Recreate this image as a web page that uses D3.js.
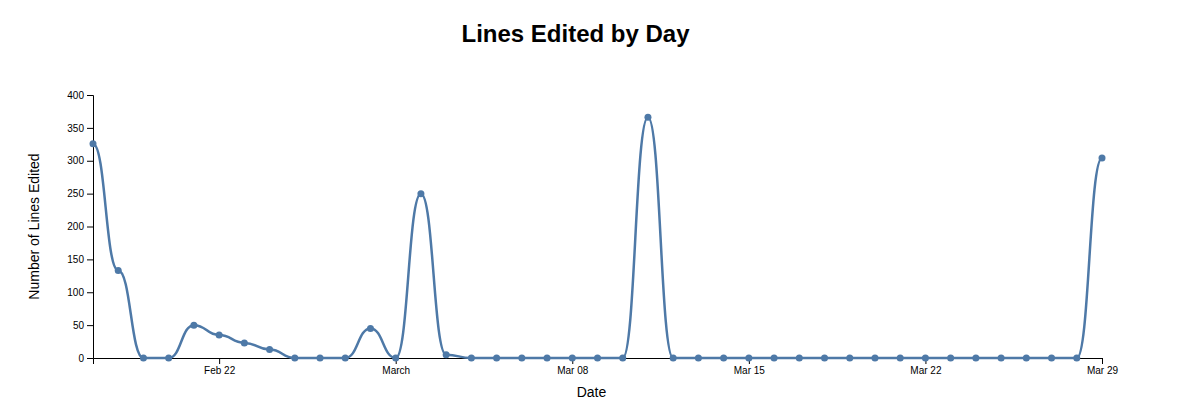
<!DOCTYPE html>
<html>
<head>
<meta charset="utf-8">
<script src="https://cdn.jsdelivr.net/npm/d3@7"></script>
<style>
  body { margin: 0; background: #fff; font-family: "Liberation Sans", Arial, sans-serif; }
  .tick text { font-family: "Liberation Sans", Arial, sans-serif; }
</style>
</head>
<body>
<div id="chart"></div>
<script>
// DATA
const days = [
    "2015-02-17", "2015-02-18", "2015-02-19", "2015-02-20", "2015-02-21", "2015-02-22",
    "2015-02-23", "2015-02-24", "2015-02-25", "2015-02-26", "2015-02-27", "2015-02-28",
    "2015-03-01", "2015-03-02", "2015-03-03", "2015-03-04", "2015-03-05", "2015-03-06",
    "2015-03-07", "2015-03-08", "2015-03-09", "2015-03-10", "2015-03-11", "2015-03-12",
    "2015-03-13", "2015-03-14", "2015-03-15", "2015-03-16", "2015-03-17", "2015-03-18",
    "2015-03-19", "2015-03-20", "2015-03-21", "2015-03-22", "2015-03-23", "2015-03-24",
    "2015-03-25", "2015-03-26", "2015-03-27", "2015-03-28", "2015-03-29"
];
const linesEdited = [
    326, 133, 0, 0, 50, 35,
    23, 13, 0, 0, 0, 45,
    0, 250, 5, 0, 0, 0,
    0, 0, 0, 0, 366, 0,
    0, 0, 0, 0, 0, 0,
    0, 0, 0, 0, 0, 0,
    0, 0, 0, 0, 304
];

// 1: SET GLOBAL VARIABLES
const margin = { top: 95, right: 78, bottom: 60, left: 93 };
const width = 1180 - margin.left - margin.right;
const height = 418 - margin.top - margin.bottom;
const color = "#4e79a7";

const svg = d3.select("#chart")
    .append("svg")
    .attr("width", width + margin.left + margin.right)
    .attr("height", height + margin.top + margin.bottom)
    .append("g")
    .attr("transform", `translate(${margin.left},${margin.top})`);

const parseDate = d3.timeParse("%Y-%m-%d");
const data = days.map((d, i) => ({ date: parseDate(d), lines: linesEdited[i] }));

// 2: SCALES
const xScale = d3.scaleTime()
    .domain(d3.extent(data, d => d.date))
    .range([0, width]);

const yScale = d3.scaleLinear()
    .domain([0, d3.max(data, d => d.lines)])
    .nice()
    .range([height, 0]);

// 3: AXES
svg.append("g")
    .attr("transform", `translate(0,${height})`)
    .call(d3.axisBottom(xScale));

svg.append("g").call(d3.axisLeft(yScale));

// 4: LABELS
svg.append("text")
    .attr("x", width / 2 - 22)
    .attr("y", -53)
    .attr("text-anchor", "middle")
    .style("font-size", "24px")
    .style("font-weight", "bold")
    .text("Lines Edited by Day");

svg.append("text")
    .attr("x", width / 2 - 6)
    .attr("y", height + 39)
    .attr("text-anchor", "middle")
    .style("font-size", "14px")
    .text("Date");

svg.append("text")
    .attr("transform", "rotate(-90)")
    .attr("x", -height / 2)
    .attr("y", -54)
    .attr("text-anchor", "middle")
    .style("font-size", "14px")
    .text("Number of Lines Edited");

// 5: LINE + POINTS
const line = d3.line()
    .x(d => xScale(d.date))
    .y(d => yScale(d.lines))
    .curve(d3.curveBumpX);

svg.append("path")
    .datum(data)
    .attr("fill", "none")
    .attr("stroke", color)
    .attr("stroke-width", 2.5)
    .attr("d", line);

svg.selectAll(".dot")
    .data(data)
    .enter()
    .append("circle")
    .attr("class", "dot")
    .attr("cx", d => xScale(d.date))
    .attr("cy", d => yScale(d.lines))
    .attr("r", 3.5)
    .attr("fill", color);
</script>
</body>
</html>
